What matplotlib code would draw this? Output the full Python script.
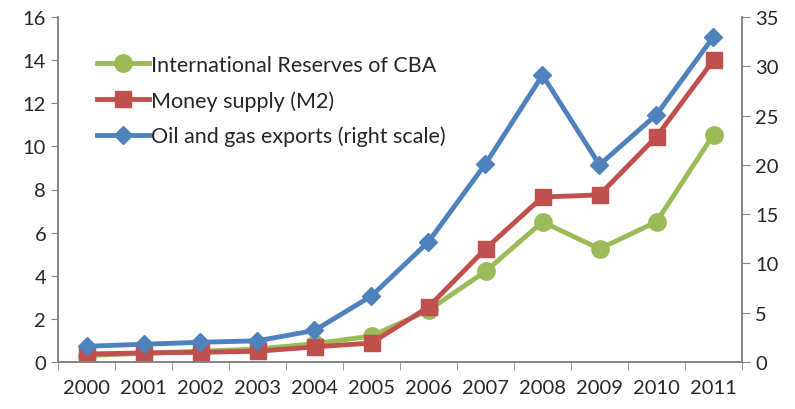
import matplotlib.pyplot as plt
import numpy as np

years = ["2000", "2001", "2002", "2003", "2004", "2005",
         "2006", "2007", "2008", "2009", "2010", "2011"]
reserves = [0.3, 0.4, 0.5, 0.6, 0.85, 1.2, 2.4, 4.2, 6.5, 5.25, 6.5, 10.55]
money_m2 = [0.37, 0.42, 0.45, 0.5, 0.7, 0.88, 2.55, 5.25, 7.65, 7.75, 10.45, 14.0]
oil_gas = [1.6, 1.8, 2.0, 2.15, 3.2, 6.7, 12.2, 20.1, 29.1, 20.0, 25.1, 33.0]

green = "#9BBB59"
red = "#C0504D"
blue = "#4F81BD"
axis_grey = "#868686"
text_col = "#262626"

plt.rcParams["font.family"] = ["Lato", "DejaVu Sans"]

fig = plt.figure(figsize=(7.95, 4.1), dpi=100)
ax = fig.add_axes([58 / 795, 47 / 410, 684 / 795, 345 / 410])
ax2 = ax.twinx()

x = np.arange(len(years))

l1, = ax.plot(x, reserves, color=green, lw=3.5, marker="o", ms=12.5,
              label="International Reserves of CBA", zorder=3)
l2, = ax.plot(x, money_m2, color=red, lw=3.5, marker="s", ms=12,
              label="Money supply (M2)", zorder=4)
l3, = ax2.plot(x, oil_gas, color=blue, lw=3.5, marker="D", ms=9.5,
               label="Oil and gas exports (right scale)", zorder=5)

ax.set_xlim(-0.5, len(years) - 0.5)
ax.set_ylim(0, 16)
ax2.set_ylim(0, 35)
ax.set_yticks(range(0, 17, 2))
ax2.set_yticks(range(0, 36, 5))

ax.set_xticks(x)
ax.set_xticklabels(years)
ax.set_xticks(np.arange(-0.5, len(years)), minor=True)
ax.tick_params(axis="x", which="major", length=0, pad=12, labelsize=14.5, colors=text_col)
ax.tick_params(axis="x", which="minor", length=6, color=axis_grey)
ax.tick_params(axis="y", length=5, color=axis_grey, labelsize=14.5, labelcolor=text_col)
ax2.tick_params(axis="y", length=6, color=axis_grey, labelsize=14.5, labelcolor=text_col)

for a in (ax, ax2):
    a.spines["top"].set_visible(False)
    for s in ("left", "right", "bottom"):
        a.spines[s].set_color(axis_grey)
        a.spines[s].set_linewidth(1.2)

leg = ax.legend(handles=[l1, l2, l3], loc="upper left", bbox_to_anchor=(0.045, 0.915),
                frameon=False, fontsize=15.5, handlelength=2.4, handletextpad=0.1,
                labelspacing=0.7, borderaxespad=0)
for t in leg.get_texts():
    t.set_color(text_col)

fig.savefig("out.png", dpi=100)
